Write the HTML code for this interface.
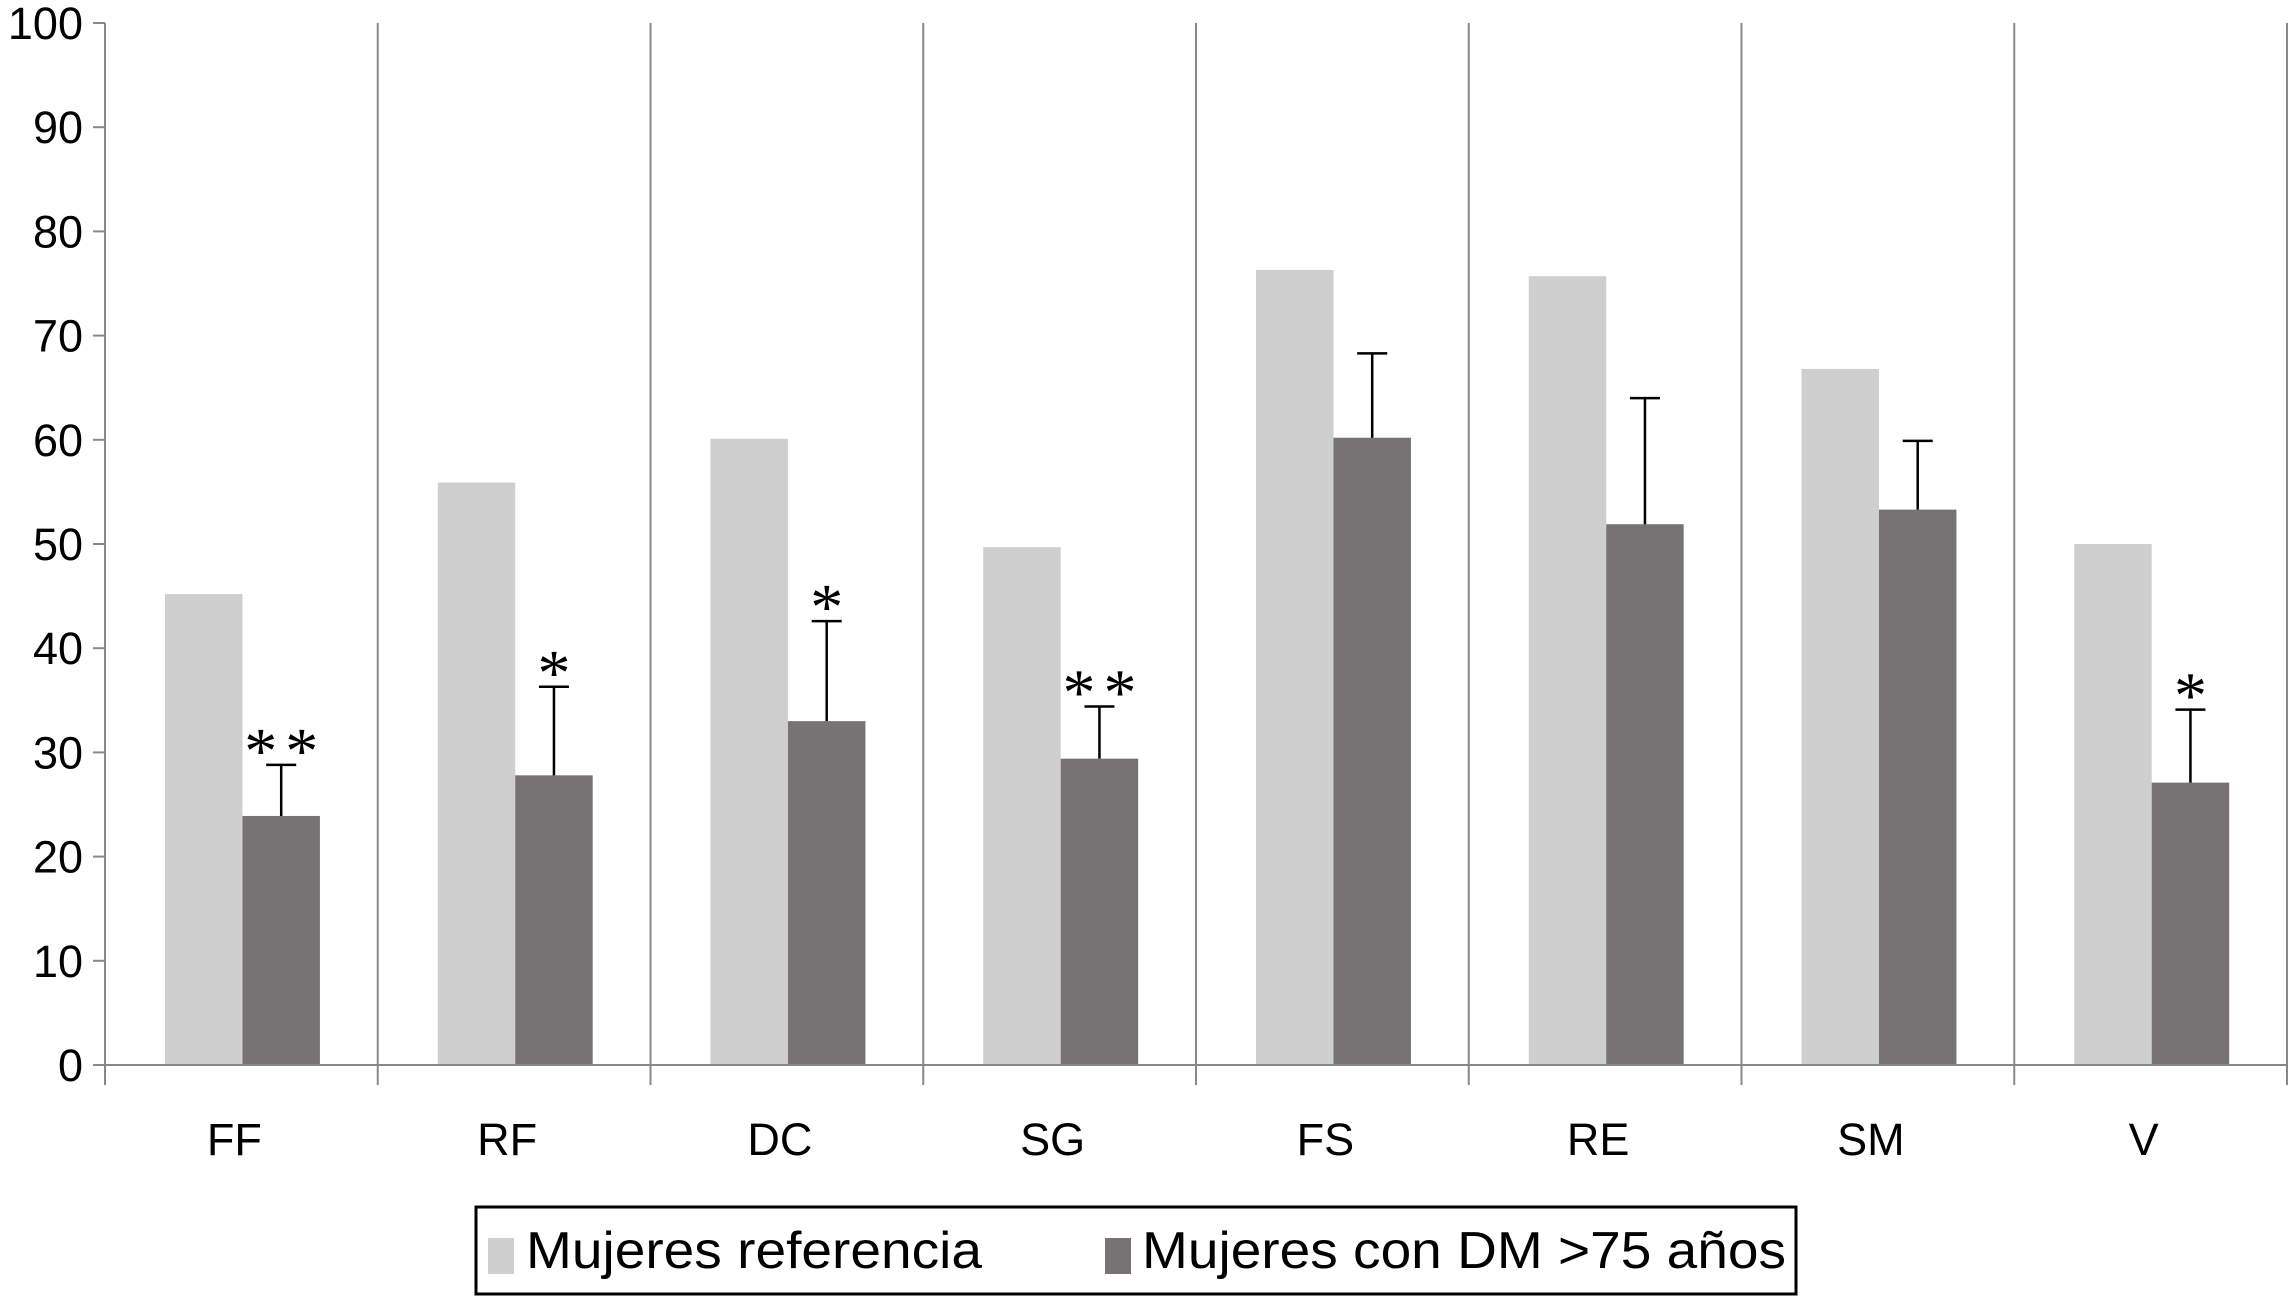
<!DOCTYPE html>
<html><head><meta charset="utf-8"><style>
html,body{margin:0;padding:0;background:#fff}
svg{display:block;font-family:"Liberation Sans",sans-serif}
</style></head><body>
<svg id="c" width="2290" height="1296"></svg>
<script>
const categories=["FF","RF","DC","SG","FS","RE","SM","V"];
const referenceValues=[45.2,55.9,60.1,49.7,76.3,75.7,66.8,50.0];
const dmValues=[23.9,27.8,33.0,29.4,60.2,51.9,53.3,27.1];
const errorTops=[28.8,36.3,42.6,34.4,68.3,64.0,59.9,34.1];
const stars=["**","*","*","**","","","","*"];
const yTicks=[0,10,20,30,40,50,60,70,80,90,100];
const NS="http://www.w3.org/2000/svg";
const svg=document.getElementById('c');
const x0=105,x1=2287,yb=1065,yt=23;
const W=(x1-x0)/categories.length;
const y=v=>yb-(yb-yt)*v/100;
function mk(t,a,txt){const e=document.createElementNS(NS,t);for(const k in a)e.setAttribute(k,a[k]);if(txt!==undefined)e.textContent=txt;svg.appendChild(e);return e;}
let e=mk('line',{x1:x0,y1:yt,x2:x0,y2:yb+20,stroke:'#888','stroke-width':2});


yTicks.forEach(t=>{
 let l=mk('line',{x1:x0-12,y1:y(t),x2:x0,y2:y(t),stroke:'#888','stroke-width':2});
 
 
 let tx=mk('text',{x:x0-22,y:y(t)+16,'text-anchor':'end','font-size':45,fill:'#000'},String(t));
 
 
});
for(let i=1;i<=categories.length;i++){
 let l=mk('line',{x1:x0+i*W,y1:yt,x2:x0+i*W,y2:yb+20,stroke:'#888','stroke-width':2});
 
 
}
categories.forEach((c,i)=>{
 const cx=x0+i*W;
 const lx=cx+0.22*W, bw=0.284*W, dx=lx+bw;
 let r=mk('rect',{x:lx,y:y(referenceValues[i]),width:bw,height:yb-y(referenceValues[i]),fill:'#d0cfd0'});
 
 
 let d=mk('rect',{x:dx,y:y(dmValues[i]),width:bw,height:yb-y(dmValues[i]),fill:'#777374'});
 
 
 const ex=dx+bw/2;
 let el=mk('path',{d:`M${ex},${y(dmValues[i])}V${y(errorTops[i])}M${ex-15},${y(errorTops[i])}H${ex+15}`,stroke:'#000','stroke-width':2.5,fill:'none'});
 
 
 if(stars[i]){
  let s=mk('text',{x:ex+(stars[i].length>1?4:0),y:y(errorTops[i])+8,'text-anchor':'middle','font-size':66,'font-family':'Liberation Serif, serif',fill:'#000','letter-spacing':stars[i].length>1?8:0},stars[i]);
  
  
 }
 let t=mk('text',{x:cx+0.5*W-7,y:1155,'text-anchor':'middle','font-size':45,fill:'#000'},c);
 
 
});
e=mk('line',{x1:x0,y1:yb,x2:x1,y2:yb,stroke:'#888','stroke-width':2});


let g=mk('rect',{x:476,y:1207,width:1320,height:87,fill:'#fff',stroke:'#000','stroke-width':3});


let s1=mk('rect',{x:488,y:1238,width:26,height:36,fill:'#d0cfd0'});


let t1=mk('text',{x:526,y:1268,'font-size':52,textLength:456,lengthAdjust:'spacingAndGlyphs',fill:'#000'},'Mujeres referencia');


let s2=mk('rect',{x:1105,y:1238,width:26,height:36,fill:'#777374'});


let t2=mk('text',{x:1142,y:1268,'font-size':52,textLength:644,lengthAdjust:'spacingAndGlyphs',fill:'#000'},'Mujeres con DM >75 años');


</script>
</body></html>
